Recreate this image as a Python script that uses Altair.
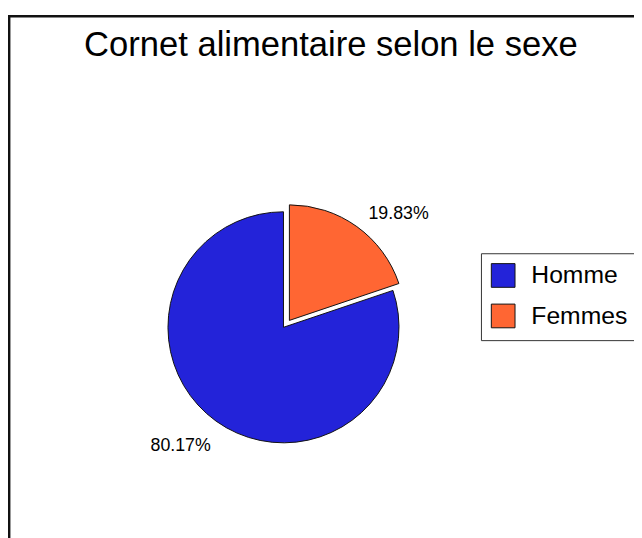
import altair as alt
import pandas as pd

# Data
categories = ["Femmes", "Homme"]
shares = [19.83, 80.17]
labels = ["19.83%", "80.17%"]
order = [0, 1]
legend_order = ["Homme", "Femmes"]
legend_colors = ["#2323D9", "#FF6633"]

df = pd.DataFrame({"sexe": categories, "part": shares, "label": labels, "ordre": order})

FONT = "Liberation Sans"
CX, CY, R = 279, 320, 117
EX, EY = 6, -7

color = alt.Color(
    "sexe:N",
    scale=alt.Scale(domain=legend_order, range=legend_colors),
    legend=alt.Legend(
        title=None,
        orient="none",
        legendX=479,
        legendY=245,
        symbolType="square",
        symbolSize=576,
        symbolStrokeColor="#111111",
        symbolStrokeWidth=1,
        symbolOpacity=1,
        labelFont=FONT,
        labelFontSize=25,
        labelColor="black",
        labelOffset=16,
        rowPadding=12,
        padding=10,
        strokeColor="#333333",
        fillColor="white",
    ),
)

base = (
    alt.Chart(df)
    .transform_joinaggregate(total="sum(part)")
    .transform_window(cum="sum(part)", sort=[alt.SortField("ordre")])
    .transform_calculate(
        t0="(datum.cum - datum.part) / datum.total * 2 * PI",
        t1="datum.cum / datum.total * 2 * PI",
        tm="(datum.cum - datum.part / 2) / datum.total * 2 * PI",
    )
)

theta = alt.Theta("t0:Q", scale=None, stack=False)

homme_arc = base.transform_filter("datum.sexe == 'Homme'").mark_arc(
    outerRadius=R, stroke="#111111", strokeWidth=1
).encode(theta=theta, theta2="t1:Q", color=color, x=alt.value(CX), y=alt.value(CY))

femmes_arc = base.transform_filter("datum.sexe == 'Femmes'").mark_arc(
    outerRadius=R, stroke="#111111", strokeWidth=1
).encode(theta=theta, theta2="t1:Q", color=color, x=alt.value(CX + EX), y=alt.value(CY + EY))

femmes_lbl = base.transform_filter("datum.sexe == 'Femmes'").mark_text(
    align="left", baseline="alphabetic", font=FONT, fontSize=18, color="black", dx=6
).encode(
    theta=alt.Theta("tm:Q", scale=None, stack=False),
    radius=alt.value(127),
    x=alt.value(CX + EX),
    y=alt.value(CY + EY),
    text="label:N",
)

homme_lbl = base.transform_filter("datum.sexe == 'Homme'").mark_text(
    align="right", baseline="top", font=FONT, fontSize=18, color="black", dx=4, dy=3
).encode(
    theta=alt.Theta("tm:Q", scale=None, stack=False),
    radius=alt.value(133),
    x=alt.value(CX),
    y=alt.value(CY),
    text="label:N",
)

frame = alt.Chart(pd.DataFrame({"k": [0]})).mark_rect(
    fill="white", stroke="#111111", strokeWidth=2.5
).encode(x=alt.value(1.2), x2=alt.value(700), y=alt.value(5), y2=alt.value(700))

chart = (
    alt.layer(frame, homme_arc, femmes_arc, femmes_lbl, homme_lbl)
    .properties(
        width=634,
        height=530,
        autosize=alt.AutoSizeParams(type="none"),
        padding=0,
        background="white",
        title=alt.TitleParams(
            "Cornet alimentaire selon le sexe",
            font=FONT,
            fontSize=35,
            fontWeight="normal",
            color="black",
            anchor="middle",
            frame="group",
            baseline="alphabetic",
            dx=10,
            dy=80,
            offset=0,
        ),
    )
    .configure_view(strokeWidth=0)
)

chart.save("out.html", embed_options={"renderer": "svg", "actions": False})
